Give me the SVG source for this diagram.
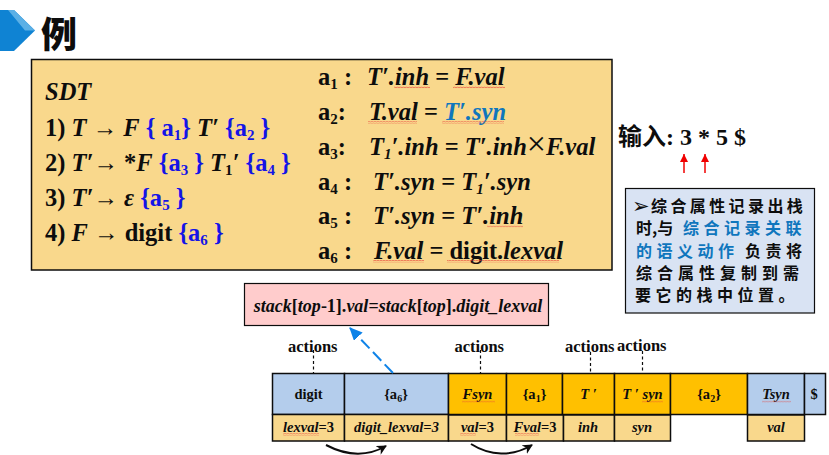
<svg xmlns="http://www.w3.org/2000/svg" width="829" height="455" viewBox="0 0 829 455">
<style>
text{font-family:"Liberation Serif","Noto Sans CJK SC",serif;font-weight:bold;fill:#0d0d0d}
.m{font-size:24.500px}
.i{font-style:italic}
.b{fill:#1414e6}
.t{fill:#0f76bd}
.s{font-size:15px}
.c{font-size:16px;font-family:"Noto Sans CJK SC",sans-serif}
.st{font-size:14.500px;text-anchor:middle}
.a{font-size:16.500px}
.box{stroke:#0d0d0d;stroke-width:1.5}
.blue{fill:#b4cdec}.org{fill:#ffc000}.tan{fill:#f9d88c}
.d{stroke:#0d0d0d;stroke-width:1.2;stroke-dasharray:3 2.5;fill:none}
</style>
<defs>
<pattern id="wave" width="3" height="2.4" patternUnits="userSpaceOnUse"><path d="M0 1.8L1.5 .6L3 1.8" fill="none" stroke="#e8433a" stroke-width=".8"/></pattern>
<marker id="ab" markerUnits="userSpaceOnUse" markerWidth="14" markerHeight="12" refX="12" refY="6" orient="auto"><path d="M0 0L13 6L0 12z" fill="#0f83e8"/></marker>
<marker id="ar" markerUnits="userSpaceOnUse" markerWidth="9" markerHeight="9" refX="8" refY="4" orient="auto"><path d="M0 0L8 4L0 8z" fill="#f00000"/></marker>
<marker id="ak" markerUnits="userSpaceOnUse" markerWidth="12" markerHeight="12" refX="9" refY="5" orient="auto"><path d="M0 0L10 5L0 10L3 5z" fill="#0d0d0d"/></marker>
</defs>

<g id="title">
<path d="M0 10H14L35 30.500L14 51H0z" fill="#0f83d3"/>
<path d="M0 10H14L35 30.500L25 30.500L8 10z" fill="#5bb0e6"/>
<text x="41" y="48" style="font-size:36px;font-family:'Noto Sans CJK SC',sans-serif;font-weight:900">例</text>
</g>

<g id="sdt-box">
<rect x="31.500" y="59.500" width="580.500" height="210.500" fill="#f9d88c" stroke="#0d0d0d" stroke-width="1.500"/>
<text class="m i" x="45" y="100">SDT</text>
<text class="m" x="45" y="136">1) <tspan class="i">T</tspan> <tspan font-weight="normal">→</tspan> <tspan class="i">F</tspan> <tspan class="b">{ a<tspan class="s" dy="4">1</tspan><tspan dy="-4">}</tspan></tspan> <tspan class="i">T′</tspan> <tspan class="b">{a<tspan class="s" dy="4">2</tspan><tspan dy="-4"> }</tspan></tspan></text>
<text class="m" x="45" y="171">2) <tspan class="i">T′</tspan><tspan font-weight="normal">→</tspan> *<tspan class="i">F</tspan> <tspan class="b">{a<tspan class="s" dy="4">3</tspan><tspan dy="-4"> }</tspan></tspan> <tspan class="i">T</tspan><tspan class="s" dy="4">1</tspan><tspan class="i" dy="-4">′</tspan> <tspan class="b">{a<tspan class="s" dy="4">4</tspan><tspan dy="-4"> }</tspan></tspan></text>
<text class="m" x="45" y="206">3) <tspan class="i">T′</tspan><tspan font-weight="normal">→</tspan> <tspan class="i">ε</tspan> <tspan class="b">{a<tspan class="s" dy="4">5</tspan><tspan dy="-4"> }</tspan></tspan></text>
<text class="m" x="45" y="241">4) <tspan class="i">F</tspan> <tspan font-weight="normal">→</tspan> digit <tspan class="b">{a<tspan class="s" dy="4">6</tspan><tspan dy="-4"> }</tspan></tspan></text>

<text class="m" x="318" y="85">a<tspan class="s" dy="4">1</tspan><tspan dy="-4"> :</tspan></text>
<text class="m" x="318" y="120">a<tspan class="s" dy="4">2</tspan><tspan dy="-4">:</tspan></text>
<text class="m" x="318" y="155">a<tspan class="s" dy="4">3</tspan><tspan dy="-4">:</tspan></text>
<text class="m" x="318" y="190">a<tspan class="s" dy="4">4</tspan><tspan dy="-4"> :</tspan></text>
<text class="m" x="318" y="224">a<tspan class="s" dy="4">5</tspan><tspan dy="-4"> :</tspan></text>
<text class="m" x="318" y="259">a<tspan class="s" dy="4">6</tspan><tspan dy="-4"> :</tspan></text>

<text class="m i" x="367" y="85">T′.inh <tspan font-style="normal">=</tspan> F.val</text>
<text class="m i" x="369" y="120">T.val <tspan font-style="normal">=</tspan> <tspan class="t">T′.syn</tspan></text>
<text class="m i" x="369" y="155">T<tspan class="s" dy="4">1</tspan><tspan dy="-4">′.inh</tspan> <tspan font-style="normal">=</tspan> T′.inh<tspan font-style="normal" font-weight="normal" font-size="34">×</tspan>F.val</text>
<text class="m i" x="373" y="190">T′.syn <tspan font-style="normal">=</tspan> T<tspan class="s" dy="4">1</tspan><tspan dy="-4">′.syn</tspan></text>
<text class="m i" x="373" y="224">T′.syn <tspan font-style="normal">=</tspan> T′.inh</text>
<text class="m i" x="374" y="259">F.val <tspan font-style="normal">=</tspan> <tspan font-style="normal">digit.</tspan>lexval</text>

<rect x="394" y="86" width="36" height="2.400" fill="url(#wave)"/>
<rect x="453" y="86" width="52" height="2.400" fill="url(#wave)"/>
<rect x="368" y="121" width="49" height="2.400" fill="url(#wave)"/>
<rect x="442" y="121" width="62" height="2.400" fill="url(#wave)"/>
<rect x="487" y="225" width="36" height="2.400" fill="url(#wave)"/>
<rect x="373" y="260" width="51" height="2.400" fill="url(#wave)"/>
<rect x="447" y="260" width="112" height="2.400" fill="url(#wave)"/>
</g>

<g id="input">
<text x="618" y="145" style="font-size:24px"><tspan font-family="Noto Sans CJK SC">输入</tspan>: 3 * 5 $</text>
</g>

<g id="note">
<rect x="625.500" y="188.500" width="189" height="124.500" fill="#d9e3f3" stroke="#0d0d0d" stroke-width="1.200"/>
<text x="632" y="213" style="font-size:21px;font-family:'DejaVu Sans',sans-serif">➢</text>
<text class="c" x="651" y="212" letter-spacing="3.400">综合属性记录出栈</text>
<text class="c" x="636" y="234">时,与</text>
<text class="c t" x="683" y="234" letter-spacing="4.500">综合记录关联</text>
<text class="c t" x="636" y="257" letter-spacing="4.500">的语义动作</text>
<text class="c" x="745" y="257" letter-spacing="4.500">负责将</text>
<text class="c" x="636" y="279" letter-spacing="5">综合属性复制到需</text>
<text class="c" x="635" y="301" letter-spacing="4.500">要它的栈中位置。</text>
</g>

<g id="formula">
<rect x="244.500" y="283.500" width="304" height="42" fill="#ffcccc" stroke="#0d0d0d" stroke-width="1.200"/>
<text x="398" y="312" text-anchor="middle" style="font-size:18px" class="i">stack<tspan font-style="normal">[</tspan>top<tspan font-style="normal">-1].</tspan>val<tspan font-style="normal">=</tspan>stack<tspan font-style="normal">[</tspan>top<tspan font-style="normal">].</tspan>digit_lexval</text>
</g>

<g id="action-labels">
<text class="a" x="288" y="352">actions</text>
<text class="a" x="454.500" y="352">actions</text>
<text class="a" x="565" y="352">actions</text>
<text class="a" x="617" y="351">actions</text>
</g>

<g id="stack-top" class="box">
<rect class="blue" x="272.500" y="373.500" width="72" height="41"/>
<rect class="blue" x="344.500" y="373.500" width="104" height="41"/>
<rect class="org" x="448.500" y="373.500" width="58" height="41"/>
<rect class="org" x="506.500" y="373.500" width="56" height="41"/>
<rect class="org" x="562.500" y="373.500" width="52" height="41"/>
<rect class="org" x="614.500" y="373.500" width="56" height="41"/>
<rect class="org" x="670.500" y="373.500" width="77" height="41"/>
<rect class="blue" x="747.500" y="373.500" width="57" height="41"/>
<rect class="blue" x="804.500" y="373.500" width="21" height="41"/>
</g>
<g id="stack-bottom" class="box">
<rect class="tan" x="272.500" y="414.500" width="72" height="26.500"/>
<rect class="tan" x="344.500" y="414.500" width="104" height="26.500"/>
<rect class="tan" x="448.500" y="415" width="58" height="26"/>
<rect class="tan" x="506.500" y="415" width="57" height="26"/>
<rect class="tan" x="563.500" y="415" width="51" height="26"/>
<rect class="tan" x="614.500" y="415" width="56" height="26"/>
<rect class="tan" x="747.500" y="415" width="57" height="26"/>
</g>

<g id="stack-labels">
<text class="st" x="308.500" y="399">digit</text>
<text class="st" x="396" y="399" font-weight="normal">{a<tspan font-size="10" dy="3">6</tspan><tspan dy="-3">}</tspan></text>
<text class="st i" x="477.500" y="399">Fsyn</text>
<text class="st" x="534.500" y="399" font-weight="normal">{a<tspan font-size="10" dy="3">1</tspan><tspan dy="-3">}</tspan></text>
<text class="st i" x="588.500" y="399">T ′</text>
<text class="st i" x="642.500" y="399">T ′ syn</text>
<text class="st" x="709" y="399" font-weight="normal">{a<tspan font-size="10" dy="3">2</tspan><tspan dy="-3">}</tspan></text>
<text class="st i" x="776" y="399">Tsyn</text>
<text class="st" x="814" y="399">$</text>
<text class="st i" x="308.500" y="432">lexval<tspan font-style="normal">=3</tspan></text>
<text class="st i" x="396.500" y="432">digit_lexval=3</text>
<text class="st i" x="477.500" y="432">val<tspan font-style="normal">=3</tspan></text>
<text class="st i" x="535" y="432">Fval<tspan font-style="normal">=3</tspan></text>
<text class="st i" x="588" y="432">inh</text>
<text class="st i" x="642" y="432">syn</text>
<text class="st i" x="776" y="432">val</text>
<rect x="283" y="433" width="36" height="2.400" fill="url(#wave)"/>
<rect x="460" y="433" width="16" height="2.400" fill="url(#wave)"/>
<rect x="515" y="433" width="24" height="2.400" fill="url(#wave)"/>
<rect x="462" y="400" width="33" height="2.400" fill="url(#wave)"/>
<rect x="642" y="400" width="21" height="2.400" fill="url(#wave)"/>
<rect x="762" y="400" width="29" height="2.400" fill="url(#wave)"/>
</g>

<g id="connectors">
<path class="d" d="M313.500 350V373"/>
<path class="d" d="M480.500 350V373"/>
<path class="d" d="M590.500 352V373"/>
<path class="d" d="M642.500 351V373"/>
<path d="M393 373L350 328" fill="none" stroke="#0f83e8" stroke-width="2" stroke-dasharray="12 5" marker-end="url(#ab)"/>
<path d="M684 173V154" stroke="#f00000" stroke-width="1.500" fill="none" marker-end="url(#ar)"/>
<path d="M705 173V154" stroke="#f00000" stroke-width="1.500" fill="none" marker-end="url(#ar)"/>
<path d="M326 445C345 455 365 458 386 446" stroke="#0d0d0d" stroke-width="2" fill="none" marker-end="url(#ak)"/>
<path d="M471 444C490 456 512 457 532 445" stroke="#0d0d0d" stroke-width="2" fill="none" marker-end="url(#ak)"/>
</g>
</svg>
